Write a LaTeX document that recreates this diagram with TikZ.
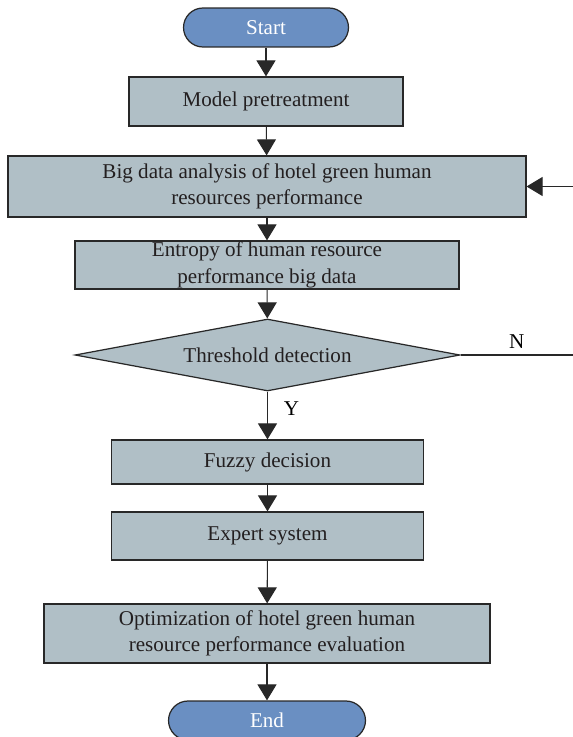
\documentclass[tikz,border=0pt]{standalone}
\usepackage{fontspec}
\setmainfont{Liberation Serif}
\usetikzlibrary{arrows.meta,shapes.geometric}
\definecolor{boxgray}{RGB}{176,191,198}
\definecolor{termblue}{RGB}{106,143,194}
\definecolor{linegray}{RGB}{40,40,40}
\definecolor{textgray}{RGB}{35,31,32}

\tikzset{
  procbox/.style={draw=linegray, line width=0.7pt, fill=boxgray, align=center, text=textgray, inner sep=0pt},
  termbox/.style={draw=linegray, line width=0.7pt, fill=termblue, rounded corners=0.39cm, minimum height=0.78cm, text=white},
  flowarrow/.style={-{Triangle[width=0.38cm,length=0.32cm]}, line width=0.6pt, draw=linegray},
  flowline/.style={line width=0.6pt, draw=linegray}
}

\begin{document}
\begin{tikzpicture}[x=0.02cm, y=-0.02cm, font=\fontsize{12}{15}\selectfont]
\useasboundingbox (0,0) rectangle (573,737);
\node[termbox, minimum width=3.3cm] (start) at (266,27.5) {Start};
\node[procbox, minimum width=5.48cm, minimum height=0.98cm] (model) at (266,101.5) {Model pretreatment};
\node[procbox, minimum width=10.36cm, minimum height=1.22cm] (bigdata) at (267,186.5) {Big data analysis of hotel green human\\resources performance};
\node[procbox, minimum width=7.68cm, minimum height=0.96cm] (entropy) at (267,265) {Entropy of human resource\\performance big data};
\node[procbox, diamond, aspect=5.35, minimum width=7.7cm, minimum height=1.44cm] (detect) at (267.5,355) {Threshold detection};
\node[procbox, minimum width=6.24cm, minimum height=0.88cm] (fuzzy) at (267.5,462) {Fuzzy decision};
\node[procbox, minimum width=6.24cm, minimum height=0.96cm] (expert) at (267.5,536) {Expert system};
\node[procbox, minimum width=8.92cm, minimum height=1.18cm] (optim) at (267,633.5) {Optimization of hotel green human\\resource performance evaluation};
\node[termbox, minimum width=3.94cm] (end) at (267,720.5) {End};
\coordinate (back) at (573,186.5);
\coordinate (nout) at (573,355);

\draw[flowarrow] (start) -- (model);
\draw[flowarrow] (model) -- (bigdata);
\draw[flowarrow] (bigdata) -- (entropy);
\draw[flowarrow] (entropy) -- (detect);
\draw[flowarrow] (detect) -- node[right, pos=0.35, xshift=0.2cm] (ylab) {Y} (fuzzy);
\draw[flowarrow] (fuzzy) -- (expert);
\draw[flowarrow] (expert) -- (optim);
\draw[flowarrow] (optim) -- (end);
\draw[flowline] (detect) -- node[above] (nlab) {N} (nout);
\draw[flowarrow] (back) -- (bigdata);
\end{tikzpicture}
\end{document}
